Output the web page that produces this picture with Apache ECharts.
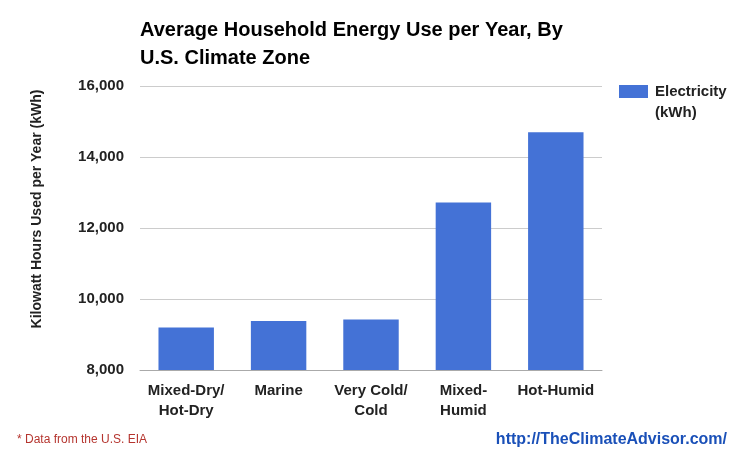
<!DOCTYPE html>
<html><head><meta charset="utf-8">
<script src="https://cdn.jsdelivr.net/npm/echarts@6/dist/echarts.min.js"></script>
<style>html,body{margin:0;padding:0;background:#fff}#c{width:741px;height:458px}</style>
</head><body><div id="c"></div>
<script>
var categories = ['Mixed-Dry/\nHot-Dry', 'Marine', 'Very Cold/\nCold', 'Mixed-\nHumid', 'Hot-Humid'];
var electricity = [9200, 9380, 9420, 12720, 14700];
var yTicks = [8000, 10000, 12000, 14000, 16000];

var chart = echarts.init(document.getElementById('c'));
var F = 'Liberation Sans, Arial, sans-serif';
chart.setOption({
  animation: false,
  backgroundColor: '#fff',
  textStyle: { fontFamily: F },
  title: {
    text: 'Average Household Energy Use per Year, By\nU.S. Climate Zone',
    left: 135, top: 11,
    textStyle: { fontFamily: F, fontSize: 20, fontWeight: 'bold', color: '#000', lineHeight: 28 }
  },
  legend: {
    data: ['Electricity (kWh)'],
    left: 614, top: 55, orient: 'vertical',
    icon: 'rect',
    itemWidth: 29, itemHeight: 13, itemGap: 8,
    formatter: function () { return '\nElectricity\n(kWh)'; },
    textStyle: { fontFamily: F, fontSize: 15, fontWeight: 'bold', color: '#222', lineHeight: 21, padding: [0, 0, 0, 2] }
  },
  grid: { left: 140, right: 139, top: 86, bottom: 88, containLabel: false },
  xAxis: {
    type: 'category', data: categories,
    axisLine: { show: true, lineStyle: { color: '#aaa' } },
    axisTick: { show: false },
    axisLabel: { fontFamily: F, fontSize: 15, fontWeight: 'bold', color: '#222', margin: 11, lineHeight: 20, interval: 0 }
  },
  yAxis: {
    type: 'value', min: yTicks[0], max: yTicks[yTicks.length - 1], interval: 2000,
    name: 'Kilowatt Hours Used per Year (kWh)', nameLocation: 'middle', nameGap: 96,
    nameTextStyle: { fontFamily: F, fontSize: 14, fontWeight: 'bold', color: '#222', padding: [0, 0, 0, 38] },
    axisLine: { show: false }, axisTick: { show: false },
    splitLine: { lineStyle: { color: '#ccc' } },
    axisLabel: {
      fontFamily: F, fontSize: 15, fontWeight: 'bold', color: '#222', margin: 16,
      formatter: function (v) { return v.toLocaleString('en-US'); }
    }
  },
  series: [{
    name: 'Electricity (kWh)', type: 'bar', data: electricity,
    barWidth: '60%', itemStyle: { color: '#4472d6' }
  }],
  graphic: [
    { type: 'text', left: 17, top: 434, style: { text: '* Data from the U.S. EIA', font: '12px ' + F, fill: '#b5352f' } },
    { type: 'text', right: 14, top: 432, style: { text: 'http://TheClimateAdvisor.com/', font: 'bold 16px ' + F, fill: '#1a50b8' } }
  ]
});
</script></body></html>
